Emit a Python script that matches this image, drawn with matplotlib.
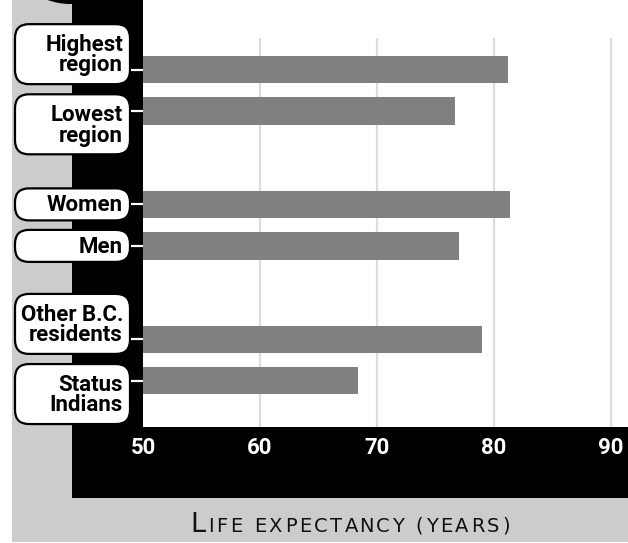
import matplotlib
matplotlib.use('Agg')
import matplotlib.pyplot as plt
from matplotlib.patches import FancyBboxPatch, Rectangle, Circle

categories = ["Highest\nregion", "Lowest\nregion", "Women", "Men",
              "Other B.C.\nresidents", "Status\nIndians"]
values = [81.2, 76.7, 81.4, 77.0, 79.0, 68.4]
positions = [0, 1, 3.25, 4.25, 6.5, 7.5]
xticks = [50, 60, 70, 80, 90]
xlabel_first = "L"
xlabel_rest = "IFE EXPECTANCY (YEARS)"

FONT = 'Roboto'
W, H = 628, 543
fig = plt.figure(figsize=(W / 100, H / 100), dpi=100, facecolor='white')

# background axes in pixel units (y downward)
bg = fig.add_axes([0, 0, 1, 1])
bg.set_xlim(0, W)
bg.set_ylim(H, 0)
bg.axis('off')
bg.add_patch(Rectangle((12, 0), W - 12, 542, color='#cccccc', lw=0))
bg.add_patch(Rectangle((72, 0), W - 72, 498, color='black', lw=0))
bg.add_patch(Circle((70, -60), 64, color='black', lw=0))

ax = fig.add_axes([143 / W, (H - 427) / H, (W - 143) / W, 427 / H])
ax.set_facecolor('white')
ax.set_xlim(50, 91.45)
ax.set_ylim(8.614, -1.675)
ax.vlines(xticks[1:], -0.76, 8.614, color='#dddddd', lw=1.6, zorder=1)
ax.barh(positions, values, height=0.66, color='#808080', zorder=2)
for s in ax.spines.values():
    s.set_visible(False)
ax.set_xticks(xticks)
ax.set_xticklabels([str(t) for t in xticks], color='white', fontsize=16,
                   fontweight='bold', family=FONT)
ax.tick_params(axis='x', length=0, pad=7)
ax.set_yticks(positions)
ax.set_yticklabels([''] * len(positions))
ax.tick_params(axis='y', length=8.5, width=1.6, color='white', direction='out')

# label boxes
for i, (cat, pos) in enumerate(zip(categories, positions)):
    two = '\n' in cat
    off = 0.0 if not two else (-0.37 if i % 2 == 0 else 0.32)
    yc = H - ax.transData.transform((50, pos + off))[1]
    h = 60 if two else 32
    box = FancyBboxPatch((15, yc - h / 2), 115, h,
                         boxstyle='round,pad=0,rounding_size=14',
                         fc='white', ec='black', lw=1.6, zorder=3)
    bg.add_patch(box)
    bg.text(123, yc + 1, cat, ha='right', va='center', fontsize=16,
            fontweight='bold', family=FONT, linespacing=0.92, zorder=4)

# small-caps axis label with letter tracking
r = fig.canvas.get_renderer()
LF = 'DejaVu Sans'
track = 2.6


def width(s, size):
    t = bg.text(0, 0, s, fontsize=size, family=LF)
    w = t.get_window_extent(r).width
    t.remove()
    return w


chars = []  # (char, size, x)
x = 0.0
chars.append((xlabel_first, 19.5, x))
x += width(xlabel_first + 'I', 19.5) - width('I', 19.5) + track
wI = width('I', 14)
for k, ch in enumerate(xlabel_rest):
    px = x + width(xlabel_rest[:k] + 'I', 14) - wI + k * track
    chars.append((ch, 14, px))
total = chars[-1][2] + width(xlabel_rest[-1], 14)
x0 = 350 - total / 2
for ch, size, px in chars:
    if ch != ' ':
        bg.text(x0 + px, 532, ch, fontsize=size, family=LF, va='baseline',
                ha='left', color='#111111')

fig.savefig('out.png', dpi=100, facecolor='white')
